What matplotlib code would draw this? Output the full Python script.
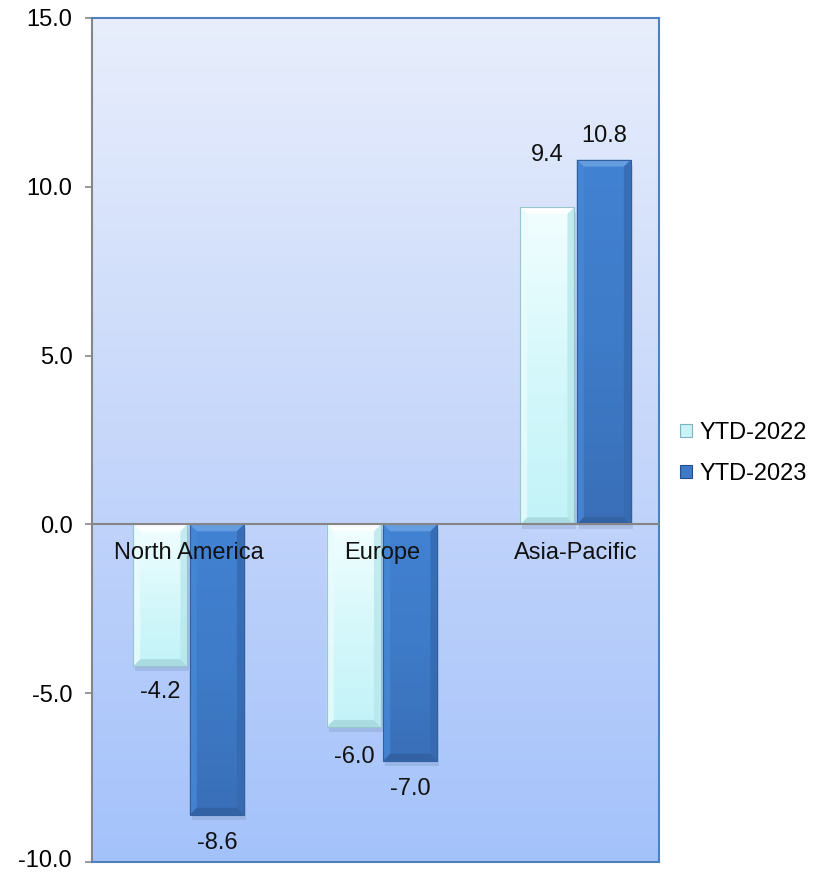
import numpy as np
import matplotlib.pyplot as plt
from matplotlib.patches import Polygon, Rectangle
from matplotlib.colors import LinearSegmentedColormap

# regional change, percent
regions = ["North America", "Europe", "Asia-Pacific"]
ytd_2022 = [-4.2, -6.0, 9.4]
ytd_2023 = [-8.6, -7.0, 10.8]
series_names = ["YTD-2022", "YTD-2023"]
yticks = [-10, -5, 0, 5, 10, 15]

# label offsets in pixels (x, y) for each series
offsets_2022 = [(0, -26), (0, -30), (0, 52)]
offsets_2023 = [(0, -28), (0, -28), (0, 24)]

plt.rcParams['font.family'] = ['Liberation Sans', 'DejaVu Sans']
FS = 17

fig = plt.figure(figsize=(8.24, 8.72), dpi=100)
ax = fig.add_axes([0.1117, 0.0115, 0.688, 0.968])
ax.set_xlim(-0.5, 2.43)
ax.set_ylim(-10, 15)

# plot area background gradient
bg = LinearSegmentedColormap.from_list("bg", ["#a4c2fa", "#c6d7fa", "#e8eefc"])
ax.imshow(np.linspace(0, 1, 256).reshape(-1, 1), cmap=bg, origin="lower",
          aspect="auto", extent=[0, 1, 0, 1], transform=ax.transAxes, zorder=0)

# data units per pixel, used for bevel widths
fig_w, fig_h = fig.get_size_inches() * fig.dpi
pos = ax.get_position()
ux = (ax.get_xlim()[1] - ax.get_xlim()[0]) / (pos.width * fig_w)
uy = (ax.get_ylim()[1] - ax.get_ylim()[0]) / (pos.height * fig_h)

styles = {
    "YTD-2022": dict(face=["#c2f3f8", "#d6f8fb", "#f2feff"], top="#ffffff",
                     left="#e9fbfd", right="#b7e7ec", bottom="#a3d6dc",
                     edge="#96c6cc"),
    "YTD-2023": dict(face=["#3a6fb8", "#3e7bc8", "#4282d2"], top="#6ea5e6",
                     left="#4788d5", right="#3569b0", bottom="#305f9f",
                     edge="#30609e"),
}


def bevel_bar(x, val, width, st):
    left, right = x - width / 2, x + width / 2
    lo, hi = min(0, val), max(0, val)
    # soft shadow
    ax.add_patch(Rectangle((left + 2 * ux, lo - 5 * uy), width, hi - lo,
                           facecolor="#4a5a80", alpha=0.15, lw=0, zorder=2))
    rect = Rectangle((left, lo), width, hi - lo, facecolor="none",
                     edgecolor=st["edge"], lw=0.8, zorder=4)
    ax.add_patch(rect)
    cm = LinearSegmentedColormap.from_list("f", st["face"])
    im = ax.imshow(np.linspace(0, 1, 64).reshape(-1, 1), cmap=cm, origin="lower",
                   aspect="auto", extent=[left, right, lo, hi], zorder=3)
    im.set_clip_path(rect)
    bx, by = 7 * ux, 7 * uy
    il, ir, ib, it = left + bx, right - bx, lo + by, hi - by
    polys = [
        ([(left, hi), (right, hi), (ir, it), (il, it)], st["top"]),
        ([(left, lo), (right, lo), (ir, ib), (il, ib)], st["bottom"]),
        ([(left, lo), (left, hi), (il, it), (il, ib)], st["left"]),
        ([(right, lo), (right, hi), (ir, it), (ir, ib)], st["right"]),
    ]
    for pts, c in polys:
        ax.add_patch(Polygon(pts, closed=True, facecolor=c, edgecolor="none",
                             alpha=0.8, zorder=3.5))


x = np.arange(len(regions))
width = 0.28
for name, vals, offs, dx in [("YTD-2022", ytd_2022, offsets_2022, -0.147),
                             ("YTD-2023", ytd_2023, offsets_2023, 0.145)]:
    for xi, v, off in zip(x, vals, offs):
        bevel_bar(xi + dx, v, width, styles[name])
        ax.annotate(f"{v:.1f}", (xi + dx, v), xytext=off,
                    textcoords="offset pixels", ha="center", va="center",
                    fontsize=FS, color="#111111", zorder=6)

# zero line and category labels
ax.axhline(0, color="#868686", lw=1.5, zorder=5)
for xi, name in zip(x, regions):
    ax.annotate(name, (xi, 0), xytext=(0, -29), textcoords="offset pixels",
                ha="center", va="center", fontsize=FS, color="#111111", zorder=6)

ax.set_xticks([])
ax.set_yticks(yticks)
ax.set_yticklabels([f"{t:.1f}" for t in yticks], fontsize=FS)
ax.tick_params(axis="y", direction="out", length=5, width=1.2,
               color="#868686", pad=9)
# lowest label drawn by hand so it stays inside the figure
ax.get_yticklabels()[0].set_visible(False)
ax.annotate(f"{yticks[0]:.1f}", (0, yticks[0]), xycoords=ax.get_yaxis_transform(),
            xytext=(-20, -10), textcoords="offset pixels", ha="right",
            va="bottom", fontsize=FS, color="black", annotation_clip=False)
for side in ["top", "right", "bottom"]:
    ax.spines[side].set_color("#4f81bd")
    ax.spines[side].set_linewidth(1.5)
ax.spines["left"].set_color("#868686")
ax.spines["left"].set_linewidth(1.5)

# legend with small squares
handles = [Rectangle((0, 0), 1, 1, facecolor="#c9f2f6", edgecolor="#7fb3bb", lw=0.8),
           Rectangle((0, 0), 1, 1, facecolor="#3d79c6", edgecolor="#24508c", lw=0.8)]
fig.legend(handles, series_names, loc="center left", bbox_to_anchor=(0.8, 0.48),
           frameon=False, fontsize=FS, handlelength=0.5, handleheight=0.5,
           handletextpad=0.3, labelspacing=0.8)

fig.savefig("out.png", dpi=100)
